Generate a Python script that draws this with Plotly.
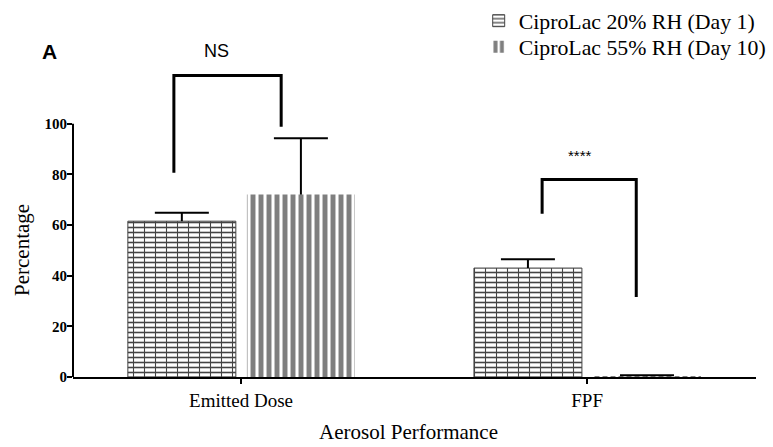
import plotly.graph_objects as go

# Aerosol performance of CiproLac powders stored at two humidity conditions
categories = ["Emitted Dose", "FPF"]
cat_pos = [0, 1]
day1_mean = [61.5, 43.0]
day1_err = [3.3, 3.5]
day10_mean = [72.0, 0.3]
day10_err = [22.2, 0.4]
series_names = ["CiproLac 20% RH (Day 1)", "CiproLac 55% RH (Day 10)"]
y_ticks = [0, 20, 40, 60, 80, 100]

# significance brackets: (x_left, x_right, y_top, y_left_end, y_right_end, label, label_x, label_y)
brackets = [
    (-0.194, 0.116, 119.0, 80.6, 98.8, "NS", -0.072, 128.5),
    (0.870, 1.142, 78.0, 64.4, 31.6, "****", 0.98, 87.5),
]

BAR_W = 0.312
OFF1 = -0.327
OFF2 = 0.017
CAP_HALF = 0.078
PLOT_H = 377  # plot area height in px (top margin 0, bottom margin 70)
Y_MAX = 148.8
SERIF = "Liberation Serif, Times New Roman, serif"
SANS = "Liberation Sans, Arial, sans-serif"

fig = go.Figure()

# brick texture: horizontal mortar lines on the base trace...
fig.add_trace(go.Bar(
    x=cat_pos, y=day1_mean, name=series_names[0], legend="legend",
    width=BAR_W, offset=OFF1,
    marker=dict(color="white", line=dict(color="#444444", width=1),
                pattern=dict(shape="-", size=5, solidity=0.32, fgopacity=1,
                             fgcolor="#444444", bgcolor="white")),
))
# ...plus vertical joints drawn by an overlay trace
fig.add_trace(go.Bar(
    x=cat_pos, y=day1_mean, showlegend=False, hoverinfo="skip",
    width=BAR_W, offset=OFF1,
    marker=dict(color="rgba(0,0,0,0)", line=dict(width=0),
                pattern=dict(shape="|", size=11, solidity=0.1, fgopacity=1,
                             fgcolor="#444444", bgcolor="rgba(0,0,0,0)")),
))
fig.add_trace(go.Bar(
    x=cat_pos, y=day10_mean, name=series_names[1], legend="legend2",
    width=BAR_W, offset=OFF2,
    marker=dict(color="white", line=dict(width=0),
                pattern=dict(shape="|", size=8, solidity=0.62, fgopacity=1,
                             fgcolor="#7f7f7f", bgcolor="white")),
))


def upper_error_path(centers, means, errs):
    """One-sided (upward) error bars: stem from bar top plus a cap."""
    xs, ys = [], []
    for c, m, e in zip(centers, means, errs):
        xs += [c, c, None, c - CAP_HALF, c + CAP_HALF, None]
        ys += [m, m + e, None, m + e, m + e, None]
    return xs, ys


c1 = [p + OFF1 + BAR_W / 2 for p in cat_pos]
c2 = [p + OFF2 + BAR_W / 2 for p in cat_pos]
for centers, means, errs in ((c1, day1_mean, day1_err), (c2, day10_mean, day10_err)):
    ex, ey = upper_error_path(centers, means, errs)
    fig.add_trace(go.Scatter(x=ex, y=ey, mode="lines", showlegend=False, hoverinfo="skip",
                             line=dict(color="black", width=2)))

shapes = [
    # y axis line spans only the labelled range
    dict(type="line", xref="paper", yref="y", x0=0, x1=0, y0=0, y1=100,
         line=dict(color="black", width=2)),
]
annotations = []
for xl, xr, yt, yl, yr, lab, lx, ly in brackets:
    shapes.append(dict(type="path", xref="x", yref="y",
                       path=f"M {xl},{yl} L {xl},{yt} L {xr},{yt} L {xr},{yr}",
                       line=dict(color="black", width=3)))
    annotations.append(dict(x=lx, y=ly, xref="x", yref="y", text=lab, showarrow=False,
                            font=dict(family=SANS, size=18 if lab == "NS" else 15, color="black")))

annotations += [
    dict(x=-0.034, y=1 - 51 / PLOT_H, xref="paper", yref="paper", text="<b>A</b>",
         showarrow=False, xanchor="center", yanchor="middle",
         font=dict(family=SANS, size=21, color="black")),
    dict(x=-0.0747, y=(377 - 250) / PLOT_H, xref="paper", yref="paper", text="Percentage",
         textangle=-90, showarrow=False, xanchor="center", yanchor="middle",
         font=dict(family=SERIF, size=21, color="black")),
    dict(x=0.4905, y=(377 - 432) / PLOT_H, xref="paper", yref="paper", text="Aerosol Performance",
         showarrow=False, xanchor="center", yanchor="middle",
         font=dict(family=SERIF, size=21, color="black")),
]

legend_style = dict(xanchor="left", yanchor="top", bgcolor="rgba(0,0,0,0)", itemwidth=30,
                    font=dict(family=SERIF, size=21.8, color="black"))

fig.update_layout(
    width=773, height=447,
    margin=dict(l=73, r=17, t=0, b=70),
    paper_bgcolor="white", plot_bgcolor="white",
    barmode="overlay",
    showlegend=True,
    legend=dict(x=0.594, y=1.0, **legend_style),
    legend2=dict(x=0.594, y=1 - 26 / PLOT_H, **legend_style),
    shapes=shapes,
    annotations=annotations,
    xaxis=dict(range=[-0.4855, 1.488], tickvals=cat_pos, ticktext=categories,
               showline=True, linecolor="black", linewidth=2,
               ticks="outside", ticklen=5, tickwidth=2, tickcolor="black",
               showgrid=False, zeroline=False,
               tickfont=dict(family=SERIF, size=19, color="black")),
    yaxis=dict(range=[0, Y_MAX], tickvals=y_ticks,
               ticktext=[f"<b>{v}</b>" for v in y_ticks],
               showline=False, ticks="outside", ticklen=5, tickwidth=2, tickcolor="black",
               ticklabelstandoff=-3,
               showgrid=False, zeroline=False,
               tickfont=dict(family=SERIF, size=15, color="black")),
)

fig.write_html("out.html")
